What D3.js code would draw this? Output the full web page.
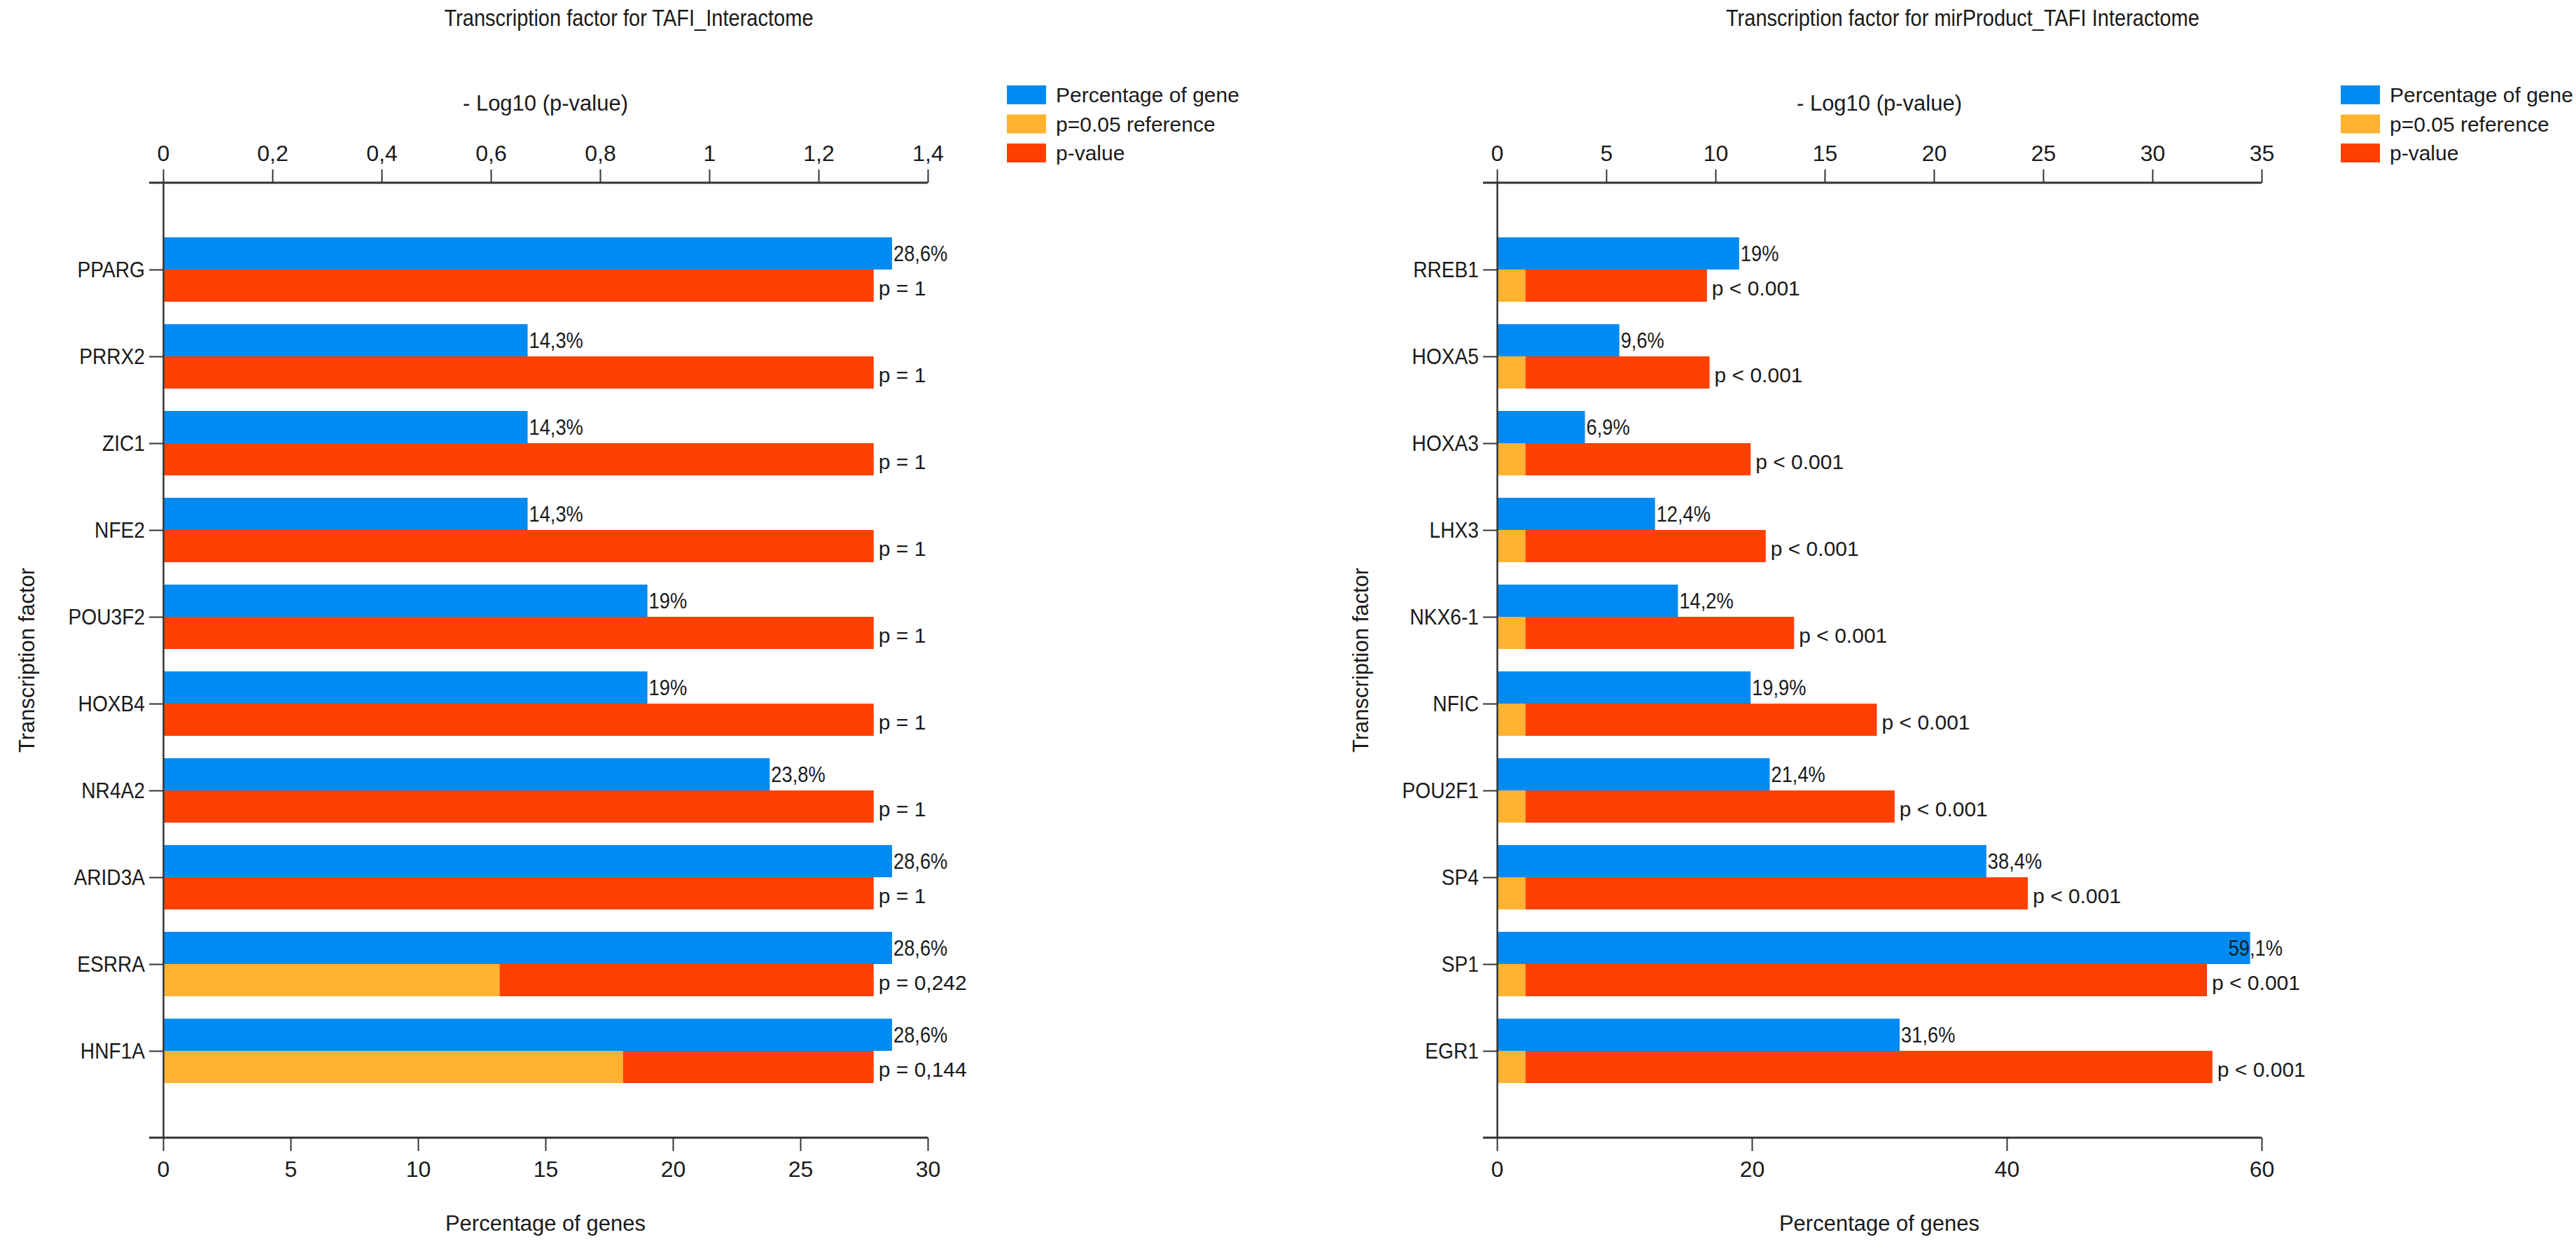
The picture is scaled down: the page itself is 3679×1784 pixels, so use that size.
<!DOCTYPE html>
<html>
<head>
<meta charset="utf-8">
<script src="https://cdn.jsdelivr.net/npm/d3@7.9.0/dist/d3.min.js"></script>
<style>
  body { margin: 0; background: #fff; }
  svg text { font-family: "Liberation Sans Narrow", "Arial Narrow", "Liberation Sans", sans-serif; fill: #1a1a1a; }
  .axis path, .axis line { stroke: #333; }
  /* the original uses a narrower face for some labels */
  .cond-start, .cond-end, .cond-middle { transform-box: fill-box; transform: scaleX(0.88); }
  .cond-start { transform-origin: 0% 50%; }
  .cond-end { transform-origin: 100% 50%; }
  .cond-middle { transform-origin: 50% 50%; }
</style>
</head>
<body>
<div id="chart"></div>
<script>
// ---------- Data ----------
const seriesNames = ["Percentage of gene", "p=0.05 reference", "p-value"];
const seriesColors = ["#008bf3", "#ffb330", "#ff4000"];
const refLogP = 1.301; // -log10(0.05)

const leftTitle = "Transcription factor for TAFI_Interactome";
const leftFactors = ["PPARG", "PRRX2", "ZIC1", "NFE2", "POU3F2", "HOXB4", "NR4A2", "ARID3A", "ESRRA", "HNF1A"];
const leftPercent = [28.6, 14.3, 14.3, 14.3, 19, 19, 23.8, 28.6, 28.6, 28.6];
const leftLogP = [0, 0, 0, 0, 0, 0, 0, 0, 0.616, 0.842];
const leftPctLabels = ["28,6%", "14,3%", "14,3%", "14,3%", "19%", "19%", "23,8%", "28,6%", "28,6%", "28,6%"];
const leftPLabels = ["p = 1", "p = 1", "p = 1", "p = 1", "p = 1", "p = 1", "p = 1", "p = 1", "p = 0,242", "p = 0,144"];
const leftTopTicks = [0, 0.2, 0.4, 0.6, 0.8, 1, 1.2, 1.4];
const leftBottomTicks = [0, 5, 10, 15, 20, 25, 30];

const rightTitle = "Transcription factor for mirProduct_TAFI Interactome";
const rightFactors = ["RREB1", "HOXA5", "HOXA3", "LHX3", "NKX6-1", "NFIC", "POU2F1", "SP4", "SP1", "EGR1"];
const rightPercent = [19, 9.6, 6.9, 12.4, 14.2, 19.9, 21.4, 38.4, 59.1, 31.6];
const rightLogP = [9.61, 9.73, 11.61, 12.3, 13.6, 17.39, 18.2, 24.3, 32.5, 32.75];
const rightPctLabels = ["19%", "9,6%", "6,9%", "12,4%", "14,2%", "19,9%", "21,4%", "38,4%", "59,1%", "31,6%"];
const rightPLabels = rightFactors.map(() => "p < 0.001");
const rightTopTicks = [0, 5, 10, 15, 20, 25, 30, 35];
const rightBottomTicks = [0, 20, 40, 60];

const width = 3679, height = 1784;
const condense = 0.88;

const svg = d3.select("#chart")
  .append("svg")
  .attr("width", width)
  .attr("height", height)
  .attr("viewBox", `0 0 ${width} ${height}`);

// ---------- Panel ----------
function drawPanel(p) {
  const g = svg.append("g").attr("transform", `translate(${p.offset},0)`);
  const left = 233, right = 1325, top = 261, bottom = 1625;
  const barH = 46;

  const xTop = d3.scaleLinear().domain([0, d3.max(p.topTicks)]).range([left, right]);
  const xBottom = d3.scaleLinear().domain([0, d3.max(p.bottomTicks)]).range([left, right]);
  const y = d3.scalePoint().domain(p.factors).range([top, bottom]).padding(1);

  const rows = p.factors.map((name, i) => ({
    name,
    pct: p.percent[i],
    logP: p.logP[i],
    pctLabel: p.pctLabels[i],
    pLabel: p.pLabels[i]
  }));

  // blue bars (bottom axis)
  g.append("g").selectAll("rect")
    .data(rows)
    .join("rect")
    .attr("x", xBottom(0))
    .attr("y", d => y(d.name) - barH)
    .attr("width", d => xBottom(d.pct) - xBottom(0))
    .attr("height", barH)
    .attr("fill", seriesColors[0]);

  // orange segment: 0 -> min(logP, ref)
  g.append("g").selectAll("rect")
    .data(rows)
    .join("rect")
    .attr("x", xTop(0))
    .attr("y", d => y(d.name))
    .attr("width", d => xTop(Math.min(d.logP, refLogP)) - xTop(0))
    .attr("height", barH)
    .attr("fill", seriesColors[1]);

  // red segment: min -> max
  g.append("g").selectAll("rect")
    .data(rows)
    .join("rect")
    .attr("x", d => xTop(Math.min(d.logP, refLogP)))
    .attr("y", d => y(d.name))
    .attr("width", d => xTop(Math.max(d.logP, refLogP)) - xTop(Math.min(d.logP, refLogP)))
    .attr("height", barH)
    .attr("fill", seriesColors[2]);

  // value labels (pushed back inside when they would run past the plot edge)
  g.append("g").selectAll("text")
    .data(rows)
    .join("text")
    .attr("class", "cond-start")
    .attr("y", d => y(d.name) - barH / 2 + 11)
    .attr("font-size", 31)
    .text(d => d.pctLabel)
    .attr("x", function(d) {
      const len = this.getComputedTextLength() * condense;
      return Math.min(xBottom(d.pct) + 2, right + 30 - len);
    });

  g.append("g").selectAll("text")
    .data(rows)
    .join("text")
    .attr("x", d => xTop(Math.max(d.logP, refLogP)) + 7)
    .attr("y", d => y(d.name) + barH / 2 + 14)
    .attr("font-size", 30)
    .text(d => d.pLabel);

  // axes
  const fmt = d => String(d).replace(".", ",");

  const topAxis = g.append("g")
    .attr("class", "axis")
    .attr("transform", `translate(0,${top})`)
    .call(d3.axisTop(xTop).tickValues(p.topTicks).tickFormat(fmt).tickSize(19).tickSizeOuter(0).tickPadding(12));
  topAxis.select(".domain").remove();
  topAxis.selectAll("line").attr("stroke-width", 2);
  topAxis.append("line")
    .attr("x1", xTop(0) - 20).attr("x2", xTop(d3.max(p.topTicks)))
    .attr("stroke", "#333").attr("stroke-width", 3);

  const bottomAxis = g.append("g")
    .attr("class", "axis")
    .attr("transform", `translate(0,${bottom})`)
    .call(d3.axisBottom(xBottom).tickValues(p.bottomTicks).tickFormat(fmt).tickSize(19).tickSizeOuter(0).tickPadding(14));
  bottomAxis.select(".domain").remove();
  bottomAxis.selectAll("line").attr("stroke-width", 2);
  bottomAxis.append("line")
    .attr("x1", xBottom(0) - 20).attr("x2", xBottom(d3.max(p.bottomTicks)))
    .attr("stroke", "#333").attr("stroke-width", 3);

  const yAxis = g.append("g")
    .attr("class", "axis")
    .attr("transform", `translate(${left},0)`)
    .call(d3.axisLeft(y).tickSize(20).tickSizeOuter(0).tickPadding(6));
  yAxis.select(".domain").attr("stroke-width", 2.5);
  yAxis.selectAll("line").attr("stroke-width", 2);
  yAxis.selectAll("text").attr("class", "cond-end");

  g.selectAll(".axis text")
    .attr("font-size", 32)
    .style("font-family", "\"Liberation Sans Narrow\", \"Arial Narrow\", \"Liberation Sans\", sans-serif")
    .attr("fill", "#1a1a1a");

  // titles
  g.append("text")
    .attr("class", "cond-middle")
    .attr("x", (left + right) / 2 + 119)
    .attr("y", 37)
    .attr("text-anchor", "middle")
    .attr("font-size", 33)
    .text(p.title);

  g.append("text")
    .attr("x", (left + right) / 2)
    .attr("y", 158)
    .attr("text-anchor", "middle")
    .attr("font-size", 31)
    .text("- Log10 (p-value)");

  g.append("text")
    .attr("x", (left + right) / 2)
    .attr("y", 1758)
    .attr("text-anchor", "middle")
    .attr("font-size", 31)
    .text("Percentage of genes");

  g.append("g")
    .attr("transform", `translate(${38},${(top + bottom) / 2}) rotate(-90)`)
    .append("text")
    .attr("text-anchor", "middle")
    .attr("dominant-baseline", "central")
    .attr("font-size", 31)
    .text("Transcription factor");

  // legend
  const legend = g.append("g").attr("transform", "translate(1438,122)");
  const item = legend.selectAll("g")
    .data(seriesNames)
    .join("g")
    .attr("transform", (d, i) => `translate(0,${i * 41.5})`);
  item.append("rect")
    .attr("width", 56).attr("height", 27)
    .attr("fill", (d, i) => seriesColors[i]);
  item.append("text")
    .attr("x", 70).attr("y", 24)
    .attr("font-size", 30)
    .text(d => d);
}

drawPanel({
  offset: 0, title: leftTitle, factors: leftFactors, percent: leftPercent, logP: leftLogP,
  pctLabels: leftPctLabels, pLabels: leftPLabels, topTicks: leftTopTicks, bottomTicks: leftBottomTicks
});
drawPanel({
  offset: 1905, title: rightTitle, factors: rightFactors, percent: rightPercent, logP: rightLogP,
  pctLabels: rightPctLabels, pLabels: rightPLabels, topTicks: rightTopTicks, bottomTicks: rightBottomTicks
});
</script>
</body>
</html>
